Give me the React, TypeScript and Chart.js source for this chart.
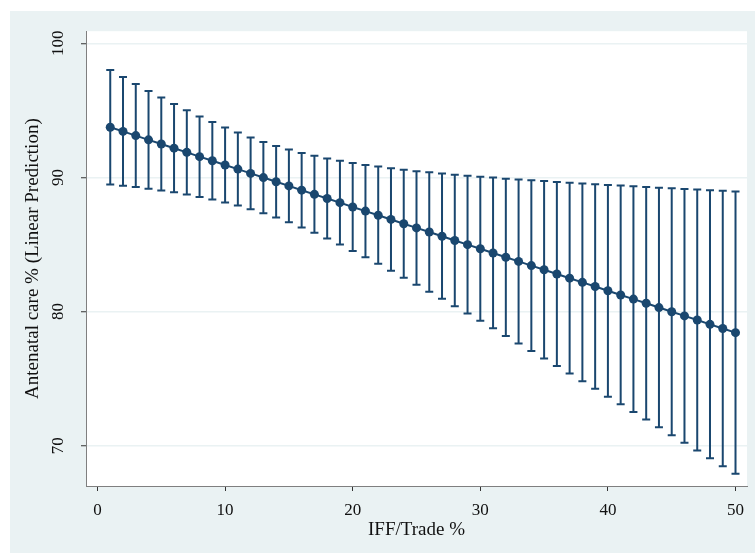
import React, { useEffect, useRef } from "react";
import { Chart, registerables } from "chart.js";

Chart.register(...registerables);

const xValues = [1, 2, 3, 4, 5, 6, 7, 8, 9, 10, 11, 12, 13, 14, 15, 16, 17, 18, 19, 20, 21, 22, 23, 24, 25, 26, 27, 28, 29, 30, 31, 32, 33, 34, 35, 36, 37, 38, 39, 40, 41, 42, 43, 44, 45, 46, 47, 48, 49, 50];

const margins = [93.74, 93.43, 93.12, 92.80, 92.49, 92.18, 91.87, 91.55, 91.24, 90.93, 90.62, 90.30, 89.99, 89.68, 89.37, 89.05, 88.74, 88.43, 88.12, 87.80, 87.49, 87.18, 86.87, 86.55, 86.24, 85.93, 85.62, 85.30, 84.99, 84.68, 84.37, 84.05, 83.74, 83.43, 83.12, 82.80, 82.49, 82.18, 81.87, 81.55, 81.24, 80.93, 80.62, 80.30, 79.99, 79.68, 79.37, 79.05, 78.74, 78.43];

const lowerCI = [89.48, 89.38, 89.28, 89.15, 89.03, 88.89, 88.73, 88.55, 88.36, 88.14, 87.90, 87.63, 87.33, 87.01, 86.66, 86.27, 85.87, 85.44, 85.00, 84.52, 84.05, 83.56, 83.05, 82.53, 82.01, 81.48, 80.95, 80.40, 79.85, 79.31, 78.76, 78.19, 77.63, 77.07, 76.51, 75.94, 75.38, 74.81, 74.24, 73.66, 73.09, 72.52, 71.95, 71.37, 70.79, 70.22, 69.64, 69.06, 68.48, 67.91];

const upperCI = [98.00, 97.48, 96.96, 96.45, 95.96, 95.48, 95.01, 94.55, 94.13, 93.72, 93.34, 92.98, 92.65, 92.35, 92.08, 91.83, 91.61, 91.42, 91.24, 91.08, 90.93, 90.81, 90.69, 90.57, 90.47, 90.38, 90.29, 90.20, 90.13, 90.05, 89.99, 89.91, 89.85, 89.79, 89.73, 89.66, 89.61, 89.55, 89.50, 89.44, 89.39, 89.34, 89.29, 89.23, 89.19, 89.14, 89.10, 89.04, 89.00, 88.96];

const xTickValues = [0, 10, 20, 30, 40, 50];
const yTickValues = [70, 80, 90, 100];

const xTitle = "IFF/Trade %";
const yTitle = "Antenatal care % (Linear Prediction)";

const NAVY = "#1a476f";
const BG = "#eaf2f3";
const FONT = "'Liberation Serif', 'Times New Roman', serif";

const plotBgPlugin = {
  id: "plotBg",
  beforeDraw(chart: any) {
    const { ctx, chartArea } = chart;
    ctx.save();
    ctx.fillStyle = "#ffffff";
    ctx.fillRect(chartArea.left, chartArea.top, chartArea.right - chartArea.left, chartArea.bottom - chartArea.top);
    ctx.restore();
  },
};

const errorBarPlugin = {
  id: "errorBars",
  beforeDatasetsDraw(chart: any) {
    const { ctx } = chart;
    const xs = chart.scales.x;
    const ys = chart.scales.y;
    ctx.save();
    ctx.strokeStyle = NAVY;
    ctx.lineWidth = 2;
    ctx.lineCap = "butt";
    const cap = 4;
    for (let i = 0; i < xValues.length; i++) {
      const px = xs.getPixelForValue(xValues[i]);
      const lo = ys.getPixelForValue(lowerCI[i]);
      const hi = ys.getPixelForValue(upperCI[i]);
      ctx.beginPath();
      ctx.moveTo(px, lo);
      ctx.lineTo(px, hi);
      ctx.moveTo(px - cap, lo);
      ctx.lineTo(px + cap, lo);
      ctx.moveTo(px - cap, hi);
      ctx.lineTo(px + cap, hi);
      ctx.stroke();
    }
    ctx.restore();
  },
};

export default function App() {
  const canvasRef = useRef<HTMLCanvasElement | null>(null);

  useEffect(() => {
    if (!canvasRef.current) return;
    const chart = new Chart(canvasRef.current, {
      type: "line",
      data: {
        datasets: [
          {
            data: xValues.map((x, i) => ({ x, y: margins[i] })),
            borderColor: NAVY,
            backgroundColor: NAVY,
            borderWidth: 2,
            pointRadius: 4.5,
            pointBorderWidth: 0,
            pointBackgroundColor: NAVY,
            tension: 0,
          },
        ],
      },
      options: {
        animation: false,
        responsive: false,
        layout: { padding: { left: 0, top: 20, right: 8, bottom: 0 } },
        plugins: {
          legend: { display: false },
          tooltip: { enabled: false },
        },
        scales: {
          x: {
            type: "linear",
            min: -0.9,
            max: 50.9,
            afterBuildTicks: (scale: any) => {
              scale.ticks = xTickValues.map((v) => ({ value: v }));
            },
            afterFit: (scale: any) => {
              scale.height = 67;
            },
            grid: {
              drawOnChartArea: false,
              drawTicks: true,
              tickLength: 5,
              tickColor: "#333333",
              tickWidth: 1,
            },
            border: { display: true, color: "#7f7f7f", width: 1 },
            ticks: {
              color: "#111111",
              font: { family: FONT, size: 17 },
              padding: 9,
              maxRotation: 0,
              minRotation: 0,
              callback: (v: any) => String(v),
            },
            title: {
              display: true,
              text: xTitle,
              color: "#111111",
              font: { family: FONT, size: 19 },
              padding: { top: 0, bottom: 12 },
            },
          },
          y: {
            type: "linear",
            min: 67.0,
            max: 100.9,
            afterBuildTicks: (scale: any) => {
              scale.ticks = yTickValues.map((v) => ({ value: v }));
            },
            afterFit: (scale: any) => {
              scale.width = 76;
            },
            grid: {
              drawOnChartArea: true,
              color: BG,
              lineWidth: 1.5,
              drawTicks: true,
              tickLength: 5,
              tickColor: "#333333",
              tickWidth: 1,
            },
            border: { display: true, color: "#7f7f7f", width: 1 },
            ticks: {
              color: "#111111",
              font: { family: FONT, size: 17 },
              padding: 10,
              minRotation: 90,
              maxRotation: 90,
              crossAlign: "center",
              callback: (v: any) => String(v),
            },
            title: {
              display: true,
              text: yTitle,
              color: "#111111",
              font: { family: FONT, size: 19 },
              padding: { top: 12, bottom: 0 },
            },
          },
        },
      },
      plugins: [plotBgPlugin, errorBarPlugin],
    } as any);
    return () => chart.destroy();
  }, []);

  return (
    <div style={{ position: "absolute", left: 0, top: 0, width: 755, height: 553, background: "#ffffff", overflow: "hidden" }}>
      <div style={{ position: "absolute", left: 10, top: 11, width: 745, height: 542, background: BG }}>
        <canvas ref={canvasRef} width={745} height={542} style={{ display: "block", width: 745, height: 542 }} />
      </div>
    </div>
  );
}
